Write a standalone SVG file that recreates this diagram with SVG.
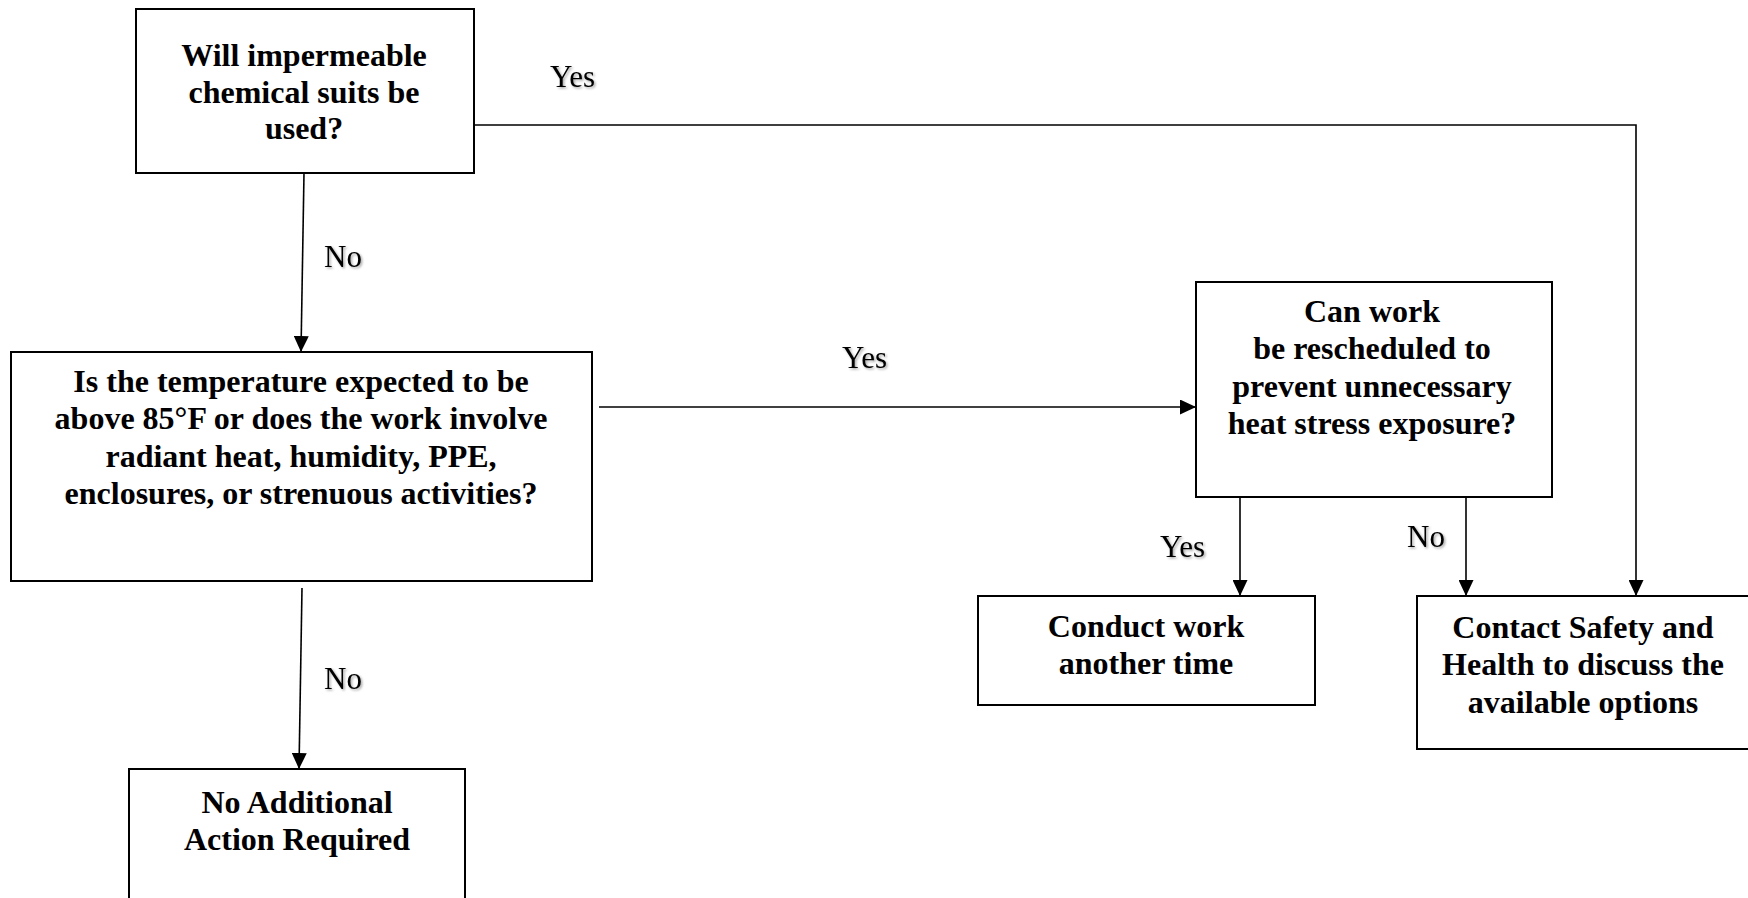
<svg xmlns="http://www.w3.org/2000/svg" width="1748" height="898" viewBox="0 0 1748 898">
<defs>
<style>
.box{fill:#fff;stroke:#000;stroke-width:2}
.t{font-family:"Liberation Serif","Times New Roman",serif;font-weight:bold;font-size:32px;text-anchor:middle;fill:#000}
.lbl{font-family:"Liberation Serif","Times New Roman",serif;font-size:31px;fill:#000;filter:url(#sh)}
.c{fill:none;stroke:#000;stroke-width:1.6}
</style>
<filter id="sh" x="-20%" y="-20%" width="150%" height="150%">
<feDropShadow dx="1.5" dy="1.5" stdDeviation="1" flood-color="#000" flood-opacity="0.35"/>
</filter>
<marker id="arr" viewBox="0 0 16 15" refX="16" refY="7.5" markerWidth="16" markerHeight="15" markerUnits="userSpaceOnUse" orient="auto">
<path d="M0,0 L16,7.5 L0,15 Z" fill="#000"/>
</marker>
</defs>
<rect width="1748" height="898" fill="#fff"/>
<g id="connectors">
<polyline class="c" points="474,125 1636,125 1636,596" marker-end="url(#arr)"/>
<line class="c" x1="304" y1="173" x2="301" y2="352" marker-end="url(#arr)"/>
<line class="c" x1="599" y1="407" x2="1196" y2="407" marker-end="url(#arr)"/>
<line class="c" x1="1240" y1="497" x2="1240" y2="596" marker-end="url(#arr)"/>
<line class="c" x1="1466" y1="497" x2="1466" y2="596" marker-end="url(#arr)"/>
<line class="c" x1="302" y1="588" x2="299" y2="769" marker-end="url(#arr)"/>
<text class="lbl" x="550" y="87">Yes</text>
<text class="lbl" x="324" y="267">No</text>
<text class="lbl" x="842" y="368">Yes</text>
<text class="lbl" x="1160" y="557">Yes</text>
<text class="lbl" x="1407" y="547">No</text>
<text class="lbl" x="324" y="689">No</text>
</g>
<g id="n1">
<rect class="box" x="136" y="9" width="338" height="164"/>
<text class="t" x="304" y="66">Will impermeable</text>
<text class="t" x="304" y="103">chemical suits be</text>
<text class="t" x="304" y="139">used?</text>
</g>
<g id="n2">
<rect class="box" x="11" y="352" width="581" height="229"/>
<text class="t" x="301" y="392">Is the temperature expected to be</text>
<text class="t" x="301" y="429">above 85°F or does the work involve</text>
<text class="t" x="301" y="467">radiant heat, humidity, PPE,</text>
<text class="t" x="301" y="504">enclosures, or strenuous activities?</text>
</g>
<g id="n3">
<rect class="box" x="1196" y="282" width="356" height="215"/>
<text class="t" x="1372" y="322">Can work</text>
<text class="t" x="1372" y="359">be rescheduled to</text>
<text class="t" x="1372" y="397">prevent unnecessary</text>
<text class="t" x="1372" y="434">heat stress exposure?</text>
</g>
<g id="n4">
<rect class="box" x="978" y="596" width="337" height="109"/>
<text class="t" x="1146" y="637">Conduct work</text>
<text class="t" x="1146" y="674">another time</text>
</g>
<g id="n5">
<rect class="box" x="1417" y="596" width="340" height="153"/>
<text class="t" x="1583" y="638">Contact Safety and</text>
<text class="t" x="1583" y="675">Health to discuss the</text>
<text class="t" x="1583" y="713">available options</text>
</g>
<g id="n6">
<rect class="box" x="129" y="769" width="336" height="140"/>
<text class="t" x="297" y="813">No Additional</text>
<text class="t" x="297" y="850">Action Required</text>
</g>
</svg>
